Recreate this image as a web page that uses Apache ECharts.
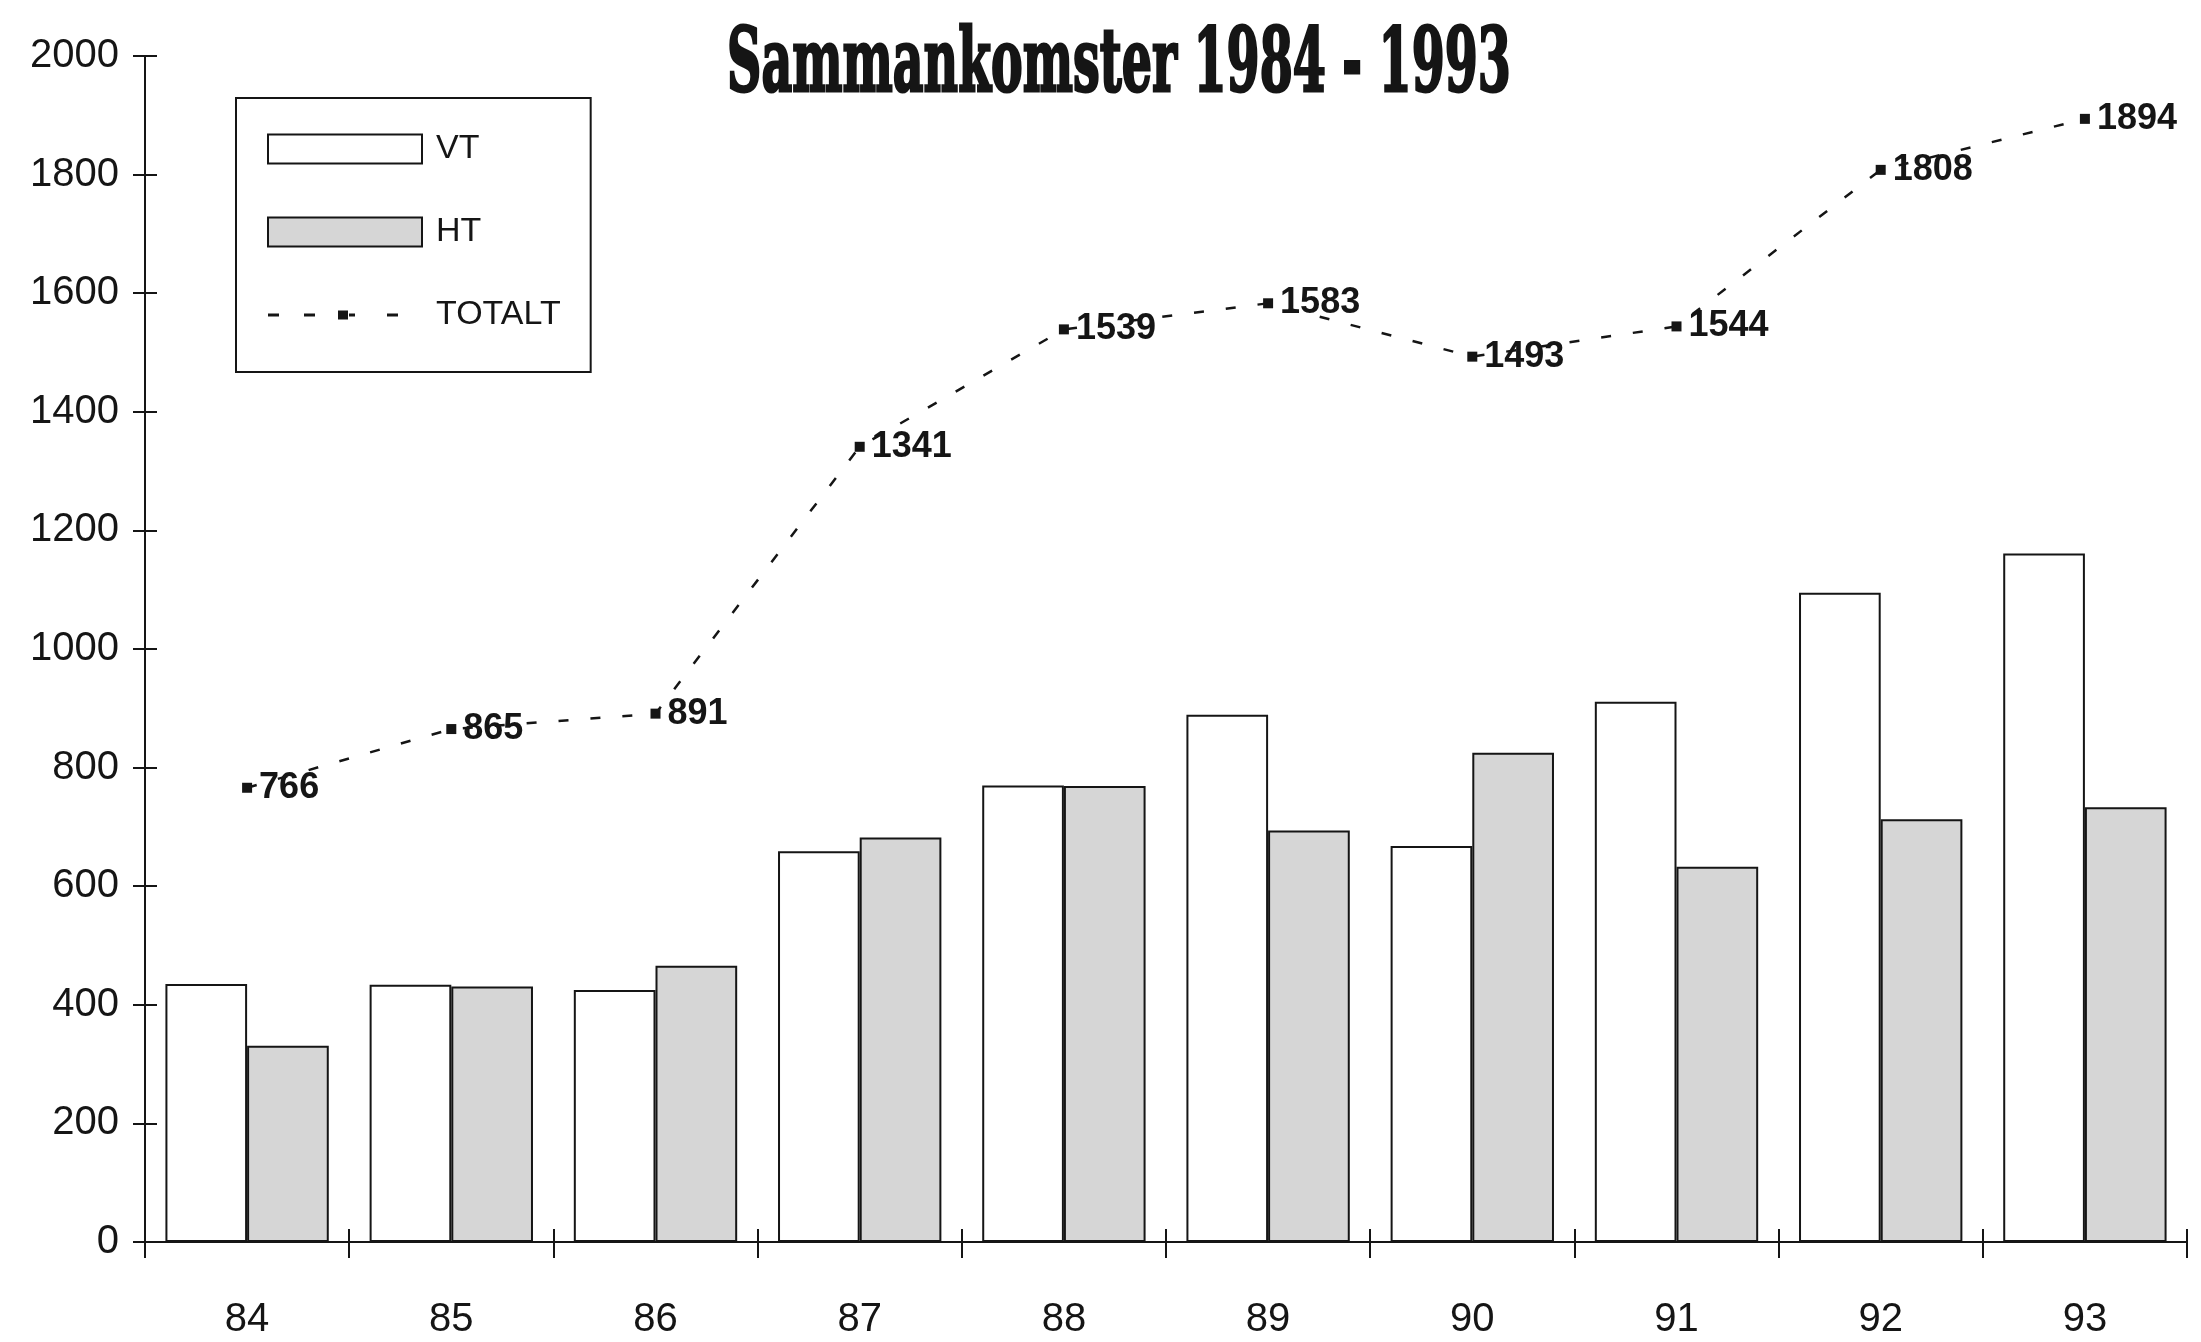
<!DOCTYPE html>
<html>
<head>
<meta charset="utf-8">
<script src="https://cdn.jsdelivr.net/npm/echarts@6/dist/echarts.min.js"></script>
<style>
html, body { margin:0; padding:0; background:#fff; }
#chart { width:2201px; height:1342px; }
</style>
</head>
<body>
<div id="chart"></div>
<script>
var years = ['84','85','86','87','88','89','90','91','92','93'];
var vtValues = [435, 434, 425, 659, 770, 889, 668, 911, 1095, 1161];
var htValues = [331, 431, 466, 682, 769, 694, 825, 633, 713, 733];
var totalValues = [766, 865, 891, 1341, 1539, 1583, 1493, 1544, 1808, 1894];

var ink = '#151515';
var chart = echarts.init(document.getElementById('chart'));

// dashes + small square, drawn in a 154x29 box
var totalIcon = 'path://M0 0M154 29M0 13h11v3h-11zM36 13h11v3h-11zM70 10h10v9h-10zM81 13h6v3h-6zM119 13h11v3h-11z';

var blank = function () { return ''; };

var option = {
    backgroundColor: '#ffffff',
    animation: false,
    graphic: [{
        type: 'text',
        x: 1119,
        y: 68,
        scaleX: 0.54,
        style: {
            text: 'Sammankomster 1984 - 1993',
            font: 'bold 88px "DejaVu Serif"',
            fill: ink,
            stroke: ink,
            lineWidth: 3,
            textAlign: 'center',
            textVerticalAlign: 'middle'
        }
    }],
    grid: {left: 145, right: 14, top: 56, bottom: 100},
    legend: {
        orient: 'vertical',
        left: 236,
        top: 98,
        padding: [34, 30, 40, 31],
        itemWidth: 154,
        itemHeight: 29,
        itemGap: 49,
        borderColor: ink,
        borderWidth: 2,
        textStyle: {
            fontFamily: 'Liberation Sans',
            fontSize: 34,
            lineHeight: 29,
            color: ink,
            padding: [0, 0, 0, 9]
        },
        data: [
            {name: 'VT', icon: 'rect'},
            {name: 'HT', icon: 'rect'},
            {name: 'TOTALT', icon: totalIcon}
        ]
    },
    xAxis: [{
        type: 'category',
        data: years,
        position: 'bottom',
        axisLine: {lineStyle: {color: ink, width: 2}},
        axisTick: {show: true, length: 16, lineStyle: {color: ink, width: 2}},
        axisLabel: {
            color: ink,
            fontFamily: 'Liberation Sans',
            fontSize: 40,
            margin: 58
        }
    }, {
        // second copy of the axis, only for the ticks that point up
        type: 'category',
        data: years,
        position: 'bottom',
        axisLine: {show: true, lineStyle: {color: ink, width: 2}},
        axisTick: {show: true, inside: true, length: 13, lineStyle: {color: ink, width: 2}},
        axisLabel: {show: true, formatter: blank}
    }],
    yAxis: [{
        type: 'value',
        min: 0,
        max: 2000,
        interval: 200,
        position: 'left',
        axisLine: {show: true, lineStyle: {color: ink, width: 2}},
        axisTick: {show: true, length: 12, lineStyle: {color: ink, width: 2}},
        splitLine: {show: false},
        axisLabel: {
            color: ink,
            fontFamily: 'Liberation Sans',
            fontSize: 40,
            margin: 26,
            formatter: function (v) { return String(v); }
        }
    }, {
        type: 'value',
        min: 0,
        max: 2000,
        interval: 200,
        position: 'left',
        axisLine: {show: true, lineStyle: {color: ink, width: 2}},
        axisTick: {show: true, inside: true, length: 12, lineStyle: {color: ink, width: 2}},
        splitLine: {show: false},
        axisLabel: {show: true, formatter: blank}
    }],
    series: [{
        name: 'VT',
        type: 'bar',
        data: vtValues,
        barGap: '0%',
        barCategoryGap: '20%',
        itemStyle: {
            color: '#ffffff',
            borderColor: ink,
            borderWidth: 2
        }
    }, {
        name: 'HT',
        type: 'bar',
        data: htValues,
        itemStyle: {
            color: '#d6d6d6',
            borderColor: ink,
            borderWidth: 2
        }
    }, {
        name: 'TOTALT',
        type: 'line',
        data: totalValues,
        symbol: 'rect',
        symbolSize: 10,
        itemStyle: {color: ink},
        lineStyle: {
            color: ink,
            width: 2.5,
            type: [10, 22]
        },
        label: {
            show: true,
            position: 'right',
            distance: 7,
            formatter: '{c}',
            fontFamily: 'Liberation Sans',
            fontWeight: 'bold',
            fontSize: 36,
            color: ink
        },
        z: 5
    }, {
        // empty series bound to the tick-only axes
        name: 'ticks',
        type: 'line',
        xAxisIndex: 1,
        yAxisIndex: 1,
        data: [],
        silent: true
    }]
};

chart.setOption(option);
</script>
</body>
</html>
